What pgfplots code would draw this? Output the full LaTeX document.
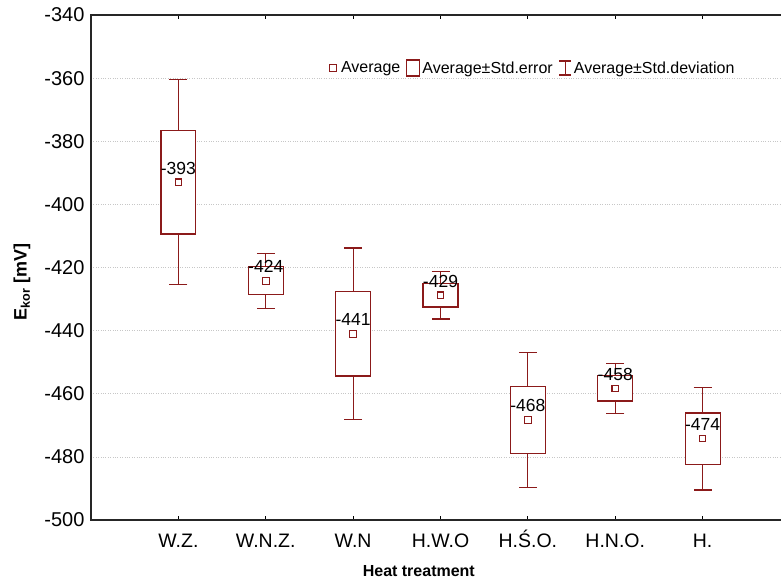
\documentclass[border=0pt]{standalone}
\usepackage{fontspec}
\setmainfont{Liberation Sans}
\usepackage{pgfplots}
\usepackage{pgfplotstable}
\pgfplotsset{compat=1.18}
\definecolor{maroon}{RGB}{139,26,26}
% x, mean, std.error, std.deviation
\pgfplotstableread{
x mean se sd
1 -393.0 16.4 32.5
2 -424.2 4.4 8.7
3 -441.0 13.4 27.2
4 -428.8 3.7 7.5
5 -468.3 10.7 21.3
6 -458.3 4.0 7.9
7 -474.2 8.1 16.3
}\stats
\begin{document}
\begin{tikzpicture}
\begin{axis}[
  at={(0,0)}, anchor=south west,
  scale only axis, width=699pt, height=505pt,
  xmin=0, xmax=8, ymin=-500, ymax=-340,
  xtick={1,2,3,4,5,6,7},
  xticklabels={W.Z., W.N.Z., W.N, H.W.O, H.Ś.O., H.N.O., H.},
  ytick={-500,-480,-460,-440,-420,-400,-380,-360,-340},
  tick align=inside, xtick pos=both, major tick length=4pt,
  ytick style={draw=none},
  xtick style={line width=1pt, black},
  ymajorgrids, grid style={dotted, black!22, line width=0.7pt},
  axis line style={line width=1.4pt, black!85},
  yticklabel style={font=\fontsize{20}{22}\selectfont, xshift=-3pt},
  xticklabel style={font=\fontsize{19.5}{22}\selectfont, text height=18pt, text depth=2pt, yshift=-6pt},
  /pgf/number format/assume math mode=true,
  xlabel={\bfseries Heat treatment},
  xlabel style={font=\fontsize{16}{18}\selectfont, at={(axis description cs:0.469,0)}, anchor=center, yshift=-51pt},
  ylabel={\bfseries E\textsubscript{kor} [mV]},
  ylabel style={font=\fontsize{18}{20}\selectfont, at={(axis description cs:0,0.472)}, anchor=center, yshift=69pt},
  legend style={draw=none, fill=none, legend columns=-1,
    at={(0.928,0.895)}, anchor=east,
    font=\fontsize{16}{18}\selectfont,
    /tikz/every even column/.append style={column sep=4pt}},
  legend cell align=left,
]
% whiskers: mean +- std.deviation
\addplot[forget plot, draw=none, mark=none,
  error bars/.cd, y dir=both, y explicit, error mark=-,
  error bar style={maroon, line width=1.2pt},
  error mark options={maroon, line width=1.2pt, mark size=9pt, rotate=90}]
  table[x=x, y=mean, y error=sd] {\stats};
% boxes: mean +- std.error
\addplot[forget plot, maroon, line width=1.2pt, fill=white] coordinates {(0.8,-409.4) (1.2,-409.4) (1.2,-376.6) (0.8,-376.6)} --cycle;
\addplot[forget plot, maroon, line width=1.2pt, fill=white] coordinates {(1.8,-428.6) (2.2,-428.6) (2.2,-419.8) (1.8,-419.8)} --cycle;
\addplot[forget plot, maroon, line width=1.2pt, fill=white] coordinates {(2.8,-454.4) (3.2,-454.4) (3.2,-427.6) (2.8,-427.6)} --cycle;
\addplot[forget plot, maroon, line width=1.2pt, fill=white] coordinates {(3.8,-432.5) (4.2,-432.5) (4.2,-425.1) (3.8,-425.1)} --cycle;
\addplot[forget plot, maroon, line width=1.2pt, fill=white] coordinates {(4.8,-479.0) (5.2,-479.0) (5.2,-457.6) (4.8,-457.6)} --cycle;
\addplot[forget plot, maroon, line width=1.2pt, fill=white] coordinates {(5.8,-462.3) (6.2,-462.3) (6.2,-454.3) (5.8,-454.3)} --cycle;
\addplot[forget plot, maroon, line width=1.2pt, fill=white] coordinates {(6.8,-482.3) (7.2,-482.3) (7.2,-466.1) (6.8,-466.1)} --cycle;
% averages
\addplot[forget plot, only marks, mark=square*, mark size=3.3pt,
  mark options={draw=maroon, fill=white, line width=1.1pt},
  nodes near coords,
  every node near coord/.append style={anchor=center, yshift=14pt, black, font=\fontsize{17.5}{19}\selectfont,
    /pgf/number format/fixed, /pgf/number format/precision=0}]
  table[x=x, y=mean] {\stats};
\addlegendimage{legend image code/.code={\draw[maroon, line width=1.1pt, fill=white] (0pt,-3.3pt) rectangle (6.6pt,3.3pt); \path (9pt,0pt);}}
\addlegendentry{Average}
\addlegendimage{legend image code/.code={\draw[maroon, line width=1.1pt] (0pt,-8pt) rectangle (13pt,8pt);}}
\addlegendentry{Average±Std.error}
\addlegendimage{legend image code/.code={\draw[maroon, line width=1.1pt] (6pt,-7pt)--(6pt,7pt) (0pt,7pt)--(12pt,7pt) (0pt,-7pt)--(12pt,-7pt);}}
\addlegendentry{Average±Std.deviation}
\end{axis}
\pgfresetboundingbox
\path (-91pt,-61pt) rectangle (690pt,520pt);
\end{tikzpicture}
\end{document}
